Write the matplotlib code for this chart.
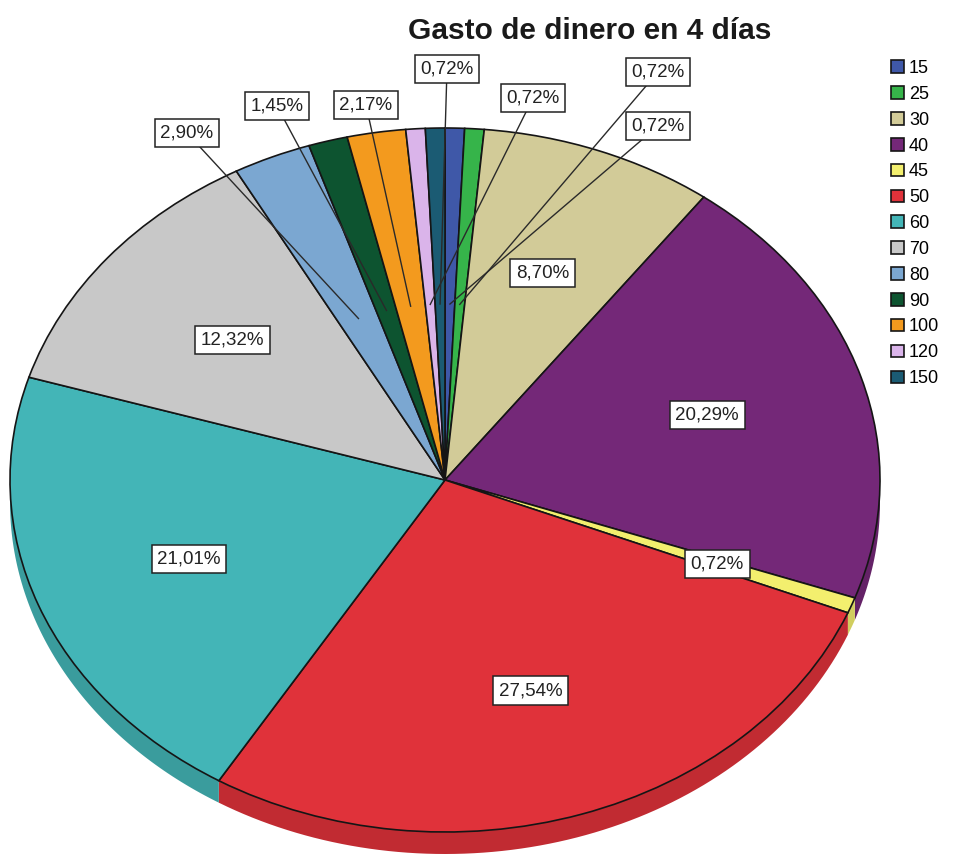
import numpy as np
import matplotlib
matplotlib.use('Agg')
import matplotlib.pyplot as plt
from matplotlib.colors import to_rgb

plt.rcParams['font.family'] = ['Liberation Sans', 'DejaVu Sans']

# gasto en 4 dias (porcentaje de casos)
categories = ['15', '25', '30', '40', '45', '50', '60', '70', '80', '90', '100', '120', '150']
percent = [0.72, 0.72, 8.70, 20.29, 0.72, 27.54, 21.01, 12.32, 2.90, 1.45, 2.17, 0.72, 0.72]
labels = ['0,72%', '0,72%', '8,70%', '20,29%', '0,72%', '27,54%', '21,01%',
          '12,32%', '2,90%', '1,45%', '2,17%', '0,72%', '0,72%']
colors = ['#3f58a8', '#36b44a', '#d2cb98', '#742878', '#f3ef6e', '#e0323a', '#43b5b7',
          '#c8c8c8', '#7ba7d1', '#0d5430', '#f39a1e', '#dab4ea', '#1b5b73']

W, H = 957, 856
CX, CY, RX, RY = 445, 480, 435, 352   # centro y semiejes del pastel en pixeles
DEPTH = 22 / RY

fig = plt.figure(figsize=(W / 100, H / 100), dpi=100)
ax = fig.add_axes([(CX - 1.25 * RX) / W, (H - CY - 1.25 * RY) / H,
                   2.5 * RX / W, 2.5 * RY / H])

wedges, _ = ax.pie(percent, colors=colors, startangle=90, counterclock=False,
                   wedgeprops=dict(edgecolor='#151515', linewidth=1.2))
ax.set_aspect('auto')
ax.set_xlim(-1.25, 1.25)
ax.set_ylim(-1.25, 1.25)

# angulos de cada porcion, en grados desde arriba en sentido horario
frac = np.array(percent) / np.sum(percent)
ends = np.cumsum(frac) * 360
starts = ends - frac * 360
mids = (starts + ends) / 2

# pared lateral (efecto 3D) en la mitad de abajo
for a, b, c in zip(starts, ends, colors):
    lo, hi = max(a, 90), min(b, 270)
    if lo >= hi:
        continue
    t = np.radians(np.linspace(lo, hi, 80))
    x, y = np.sin(t), np.cos(t)
    dark = tuple(v * 0.86 for v in to_rgb(c))
    ax.fill(np.concatenate([x, x[::-1]]), np.concatenate([y, y[::-1] - DEPTH]),
            color=dark, zorder=0.5, lw=0)


def px(x, y):
    return (x - CX) / RX, (CY - y) / RY


box = dict(boxstyle='square,pad=0.3', fc='white', ec='#222222', lw=1.1)

# etiquetas de porciones pequenas, fuera del pastel con linea guia
outside = {'150': (447, 69), '120': (533, 98), '25': (658, 72), '15': (658, 126),
           '100': (366, 105), '90': (277, 106), '80': (187, 133)}

for i, cat in enumerate(categories):
    m = np.radians(mids[i])
    if cat in outside:
        ex, ey = 0.5 * np.sin(m), 0.5 * np.cos(m)
        bx, by = px(*outside[cat])
        ax.plot([ex, bx], [ey, by], color='#2a2a2a', lw=1.0, zorder=3)
        ax.text(bx, by, labels[i], ha='center', va='center', fontsize=13.5,
                color='#222222', bbox=box, zorder=4)
    else:
        r = 0.67 if cat == '45' else 0.63
        ax.text(r * np.sin(m), r * np.cos(m), labels[i], ha='center', va='center',
                fontsize=13.5, color='#222222', bbox=box, zorder=4)

fig.text(590 / W, 1 - 31 / H, 'Gasto de dinero en 4 días', ha='center', va='center',
         fontsize=21.5, fontweight='bold', color='#1a1a1a')

fig.legend(wedges, categories, loc='upper left', bbox_to_anchor=(891 / W, 1 - 60 / H),
           frameon=False, fontsize=13, handlelength=0.7, handleheight=0.7,
           handletextpad=0.3, labelspacing=0.49, borderaxespad=0, borderpad=0)

fig.savefig('out.png', dpi=100)
